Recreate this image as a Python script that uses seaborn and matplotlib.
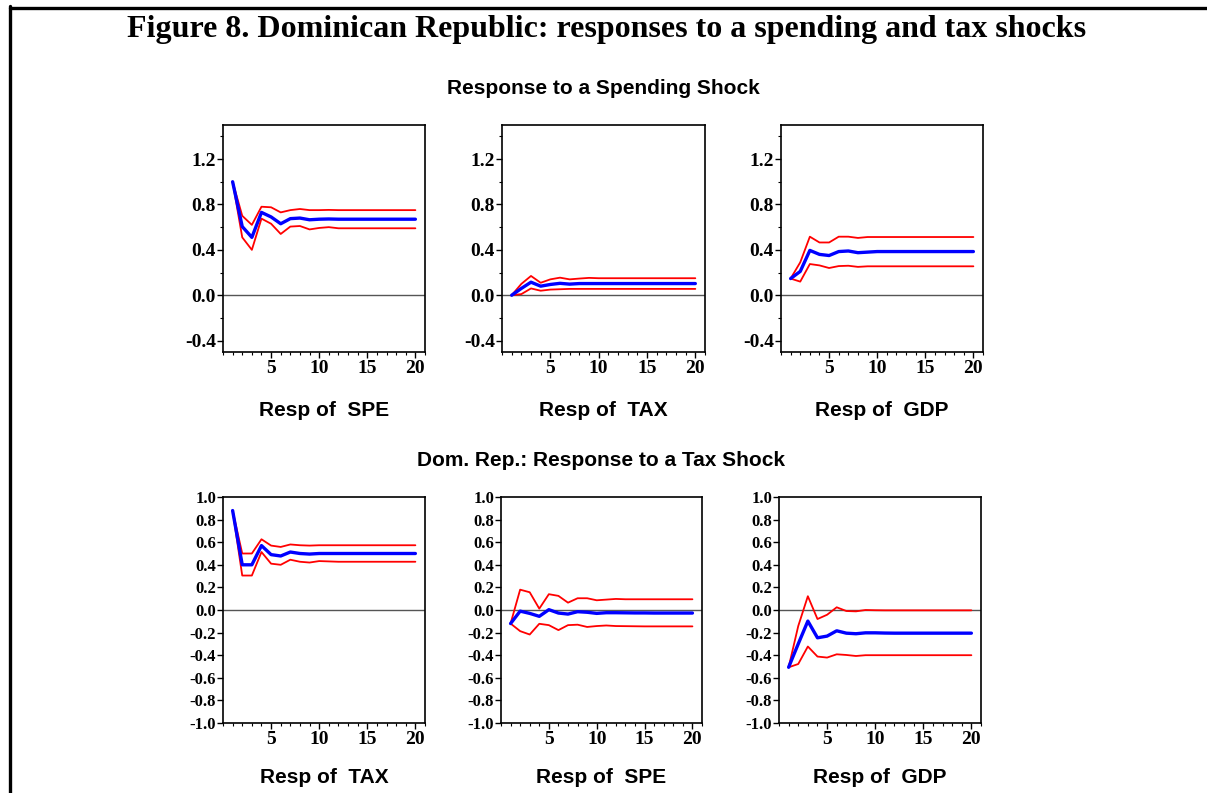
import seaborn as sns
import matplotlib.pyplot as plt
import matplotlib.ticker as mticker
from matplotlib.lines import Line2D
import numpy as np
import pandas as pd

sns.set_style("ticks")
plt.rcParams['font.family'] = ['Liberation Sans', 'DejaVu Sans']
plt.rcParams['text.color'] = 'black'
plt.rcParams['axes.labelcolor'] = 'black'
plt.rcParams['xtick.color'] = 'black'
plt.rcParams['ytick.color'] = 'black'

periods = list(range(1, 21))

# response to a spending shock
spe_spe = [1.0, 0.605, 0.51, 0.73, 0.69, 0.63, 0.675, 0.68, 0.665, 0.67,
           0.672, 0.67, 0.67, 0.67, 0.67, 0.67, 0.67, 0.67, 0.67, 0.67]
spe_spe_hi = [1.0, 0.70, 0.62, 0.78, 0.775, 0.73, 0.75, 0.76, 0.75, 0.75,
              0.752, 0.75, 0.75, 0.75, 0.75, 0.75, 0.75, 0.75, 0.75, 0.75]
spe_spe_lo = [1.0, 0.51, 0.40, 0.675, 0.63, 0.54, 0.605, 0.61, 0.58, 0.593,
              0.60, 0.59, 0.59, 0.59, 0.59, 0.59, 0.59, 0.59, 0.59, 0.59]

spe_tax = [0.0, 0.06, 0.115, 0.08, 0.095, 0.105, 0.098, 0.103, 0.103, 0.103,
           0.103, 0.103, 0.103, 0.103, 0.103, 0.103, 0.103, 0.103, 0.103, 0.103]
spe_tax_hi = [0.0, 0.10, 0.17, 0.11, 0.14, 0.155, 0.14, 0.147, 0.153, 0.15,
              0.15, 0.15, 0.15, 0.15, 0.15, 0.15, 0.15, 0.15, 0.15, 0.15]
spe_tax_lo = [0.0, 0.01, 0.06, 0.04, 0.05, 0.053, 0.056, 0.056, 0.056, 0.056,
              0.056, 0.056, 0.056, 0.056, 0.056, 0.056, 0.056, 0.056, 0.056, 0.056]

spe_gdp = [0.147, 0.21, 0.395, 0.36, 0.35, 0.385, 0.39, 0.375, 0.38, 0.385,
           0.385, 0.385, 0.385, 0.385, 0.385, 0.385, 0.385, 0.385, 0.385, 0.385]
spe_gdp_hi = [0.147, 0.29, 0.516, 0.465, 0.465, 0.516, 0.516, 0.505, 0.513, 0.513,
              0.513, 0.513, 0.513, 0.513, 0.513, 0.513, 0.513, 0.513, 0.513, 0.513]
spe_gdp_lo = [0.147, 0.12, 0.275, 0.263, 0.24, 0.257, 0.26, 0.25, 0.255, 0.255,
              0.255, 0.255, 0.255, 0.255, 0.255, 0.255, 0.255, 0.255, 0.255, 0.255]

# response to a tax shock
tax_tax = [0.88, 0.40, 0.40, 0.57, 0.49, 0.478, 0.513, 0.50, 0.495, 0.50,
           0.50, 0.50, 0.50, 0.50, 0.50, 0.50, 0.50, 0.50, 0.50, 0.50]
tax_tax_hi = [0.88, 0.50, 0.50, 0.626, 0.57, 0.558, 0.58, 0.573, 0.57, 0.573,
              0.573, 0.573, 0.573, 0.573, 0.573, 0.573, 0.573, 0.573, 0.573, 0.573]
tax_tax_lo = [0.88, 0.305, 0.305, 0.513, 0.41, 0.40, 0.445, 0.427, 0.42, 0.433,
              0.43, 0.427, 0.427, 0.427, 0.427, 0.427, 0.427, 0.427, 0.427, 0.427]

tax_spe = [-0.12, -0.01, -0.03, -0.056, 0.003, -0.027, -0.036, -0.015, -0.02, -0.03,
           -0.024, -0.024, -0.025, -0.026, -0.026, -0.027, -0.027, -0.027, -0.027, -0.027]
tax_spe_hi = [-0.12, 0.18, 0.157, 0.012, 0.14, 0.125, 0.065, 0.104, 0.104, 0.086,
              0.092, 0.098, 0.095, 0.095, 0.095, 0.095, 0.095, 0.095, 0.095, 0.095]
tax_spe_lo = [-0.12, -0.187, -0.217, -0.122, -0.134, -0.178, -0.134, -0.13, -0.15, -0.142,
              -0.137, -0.142, -0.143, -0.144, -0.145, -0.145, -0.145, -0.145, -0.145, -0.145]

tax_gdp = [-0.507, -0.30, -0.098, -0.246, -0.231, -0.184, -0.205, -0.21, -0.202, -0.202,
           -0.204, -0.205, -0.205, -0.205, -0.205, -0.205, -0.205, -0.205, -0.205, -0.205]
tax_gdp_hi = [-0.507, -0.142, 0.122, -0.08, -0.042, 0.024, -0.009, -0.012, 0.0, -0.002,
              -0.003, -0.003, -0.003, -0.003, -0.003, -0.003, -0.003, -0.003, -0.003, -0.003]
tax_gdp_lo = [-0.507, -0.478, -0.323, -0.412, -0.421, -0.392, -0.398, -0.407, -0.40, -0.40,
              -0.40, -0.40, -0.40, -0.40, -0.40, -0.40, -0.40, -0.40, -0.40, -0.40]

top_labels = ["Resp of  SPE", "Resp of  TAX", "Resp of  GDP"]
bottom_labels = ["Resp of  TAX", "Resp of  SPE", "Resp of  GDP"]

fig = plt.figure(figsize=(12.07, 7.93), dpi=100)

W, H = 1207, 793
def box(x0, y0, x1, y1):
    return [x0 / W, 1 - y1 / H, (x1 - x0) / W, (y1 - y0) / H]

top_boxes = [box(223, 125, 425, 352), box(502, 125, 705, 352), box(781, 125, 983, 352)]
bot_boxes = [box(223, 497, 425, 723), box(501, 497, 702, 723), box(779, 497, 981, 723)]

top_series = [(spe_spe, spe_spe_hi, spe_spe_lo),
              (spe_tax, spe_tax_hi, spe_tax_lo),
              (spe_gdp, spe_gdp_hi, spe_gdp_lo)]
bot_series = [(tax_tax, tax_tax_hi, tax_tax_lo),
              (tax_spe, tax_spe_hi, tax_spe_lo),
              (tax_gdp, tax_gdp_hi, tax_gdp_lo)]


def draw_panel(rect, series, label, top):
    ax = fig.add_axes(rect)
    mid, hi, lo = series
    df = pd.DataFrame({'period': periods, 'mid': mid, 'hi': hi, 'lo': lo})
    ax.axhline(0, color='#555555', lw=1.0, zorder=1)
    sns.lineplot(data=df, x='period', y='hi', ax=ax, color='red', lw=1.3)
    sns.lineplot(data=df, x='period', y='lo', ax=ax, color='red', lw=1.3)
    sns.lineplot(data=df, x='period', y='mid', ax=ax, color='blue', lw=2.4)
    ax.set_xlim(0, 21)
    ax.xaxis.set_major_locator(mticker.FixedLocator([5, 10, 15, 20]))
    ax.xaxis.set_minor_locator(mticker.MultipleLocator(1))
    if top:
        ax.set_ylim(-0.5, 1.5)
        ax.yaxis.set_major_locator(mticker.FixedLocator([-0.4, 0.0, 0.4, 0.8, 1.2]))
        ax.yaxis.set_minor_locator(mticker.MultipleLocator(0.2))
        ysize = 14
        pad = 17
    else:
        ax.set_ylim(-1.0, 1.0)
        ax.yaxis.set_major_locator(mticker.MultipleLocator(0.2))
        ysize = 12
        pad = 14
    ax.yaxis.set_major_formatter(mticker.FormatStrFormatter('%.1f'))
    for t in ax.get_yticklabels():
        t.set_fontfamily('Liberation Serif')
        t.set_fontweight('bold')
        t.set_fontsize(ysize)
    for t in ax.get_xticklabels():
        t.set_fontfamily('Liberation Serif')
        t.set_fontweight('bold')
        t.set_fontsize(14)
    ax.tick_params(axis='both', which='major', length=4, width=1, pad=2, color='black')
    ax.tick_params(axis='both', which='minor', length=2, width=0.8, color='black')
    ax.tick_params(axis='y', pad=1)
    for s in ax.spines.values():
        s.set_visible(True)
        s.set_color('black')
        s.set_linewidth(1.2)
    ax.set_ylabel('')
    ax.set_xlabel(label, fontsize=15, fontweight='bold', labelpad=pad)
    return ax


for rect, ser, lab in zip(top_boxes, top_series, top_labels):
    draw_panel(rect, ser, lab, True)
for rect, ser, lab in zip(bot_boxes, bot_series, bottom_labels):
    draw_panel(rect, ser, lab, False)

fig.text(607 / W, 1 - 29 / H, "Figure 8. Dominican Republic: responses to a spending and tax shocks",
         ha='center', va='center', fontsize=23, fontweight='bold', family='Liberation Serif')
fig.text(603 / W, 1 - 88 / H, "Response to a Spending Shock",
         ha='center', va='center', fontsize=15, fontweight='bold')
fig.text(601 / W, 1 - 461 / H, "Dom. Rep.: Response to a Tax Shock",
         ha='center', va='center', fontsize=15, fontweight='bold')

# frame lines of the page
fig.add_artist(Line2D([9.5 / W, 1.0], [1 - 7.5 / H, 1 - 7.5 / H], transform=fig.transFigure,
                      color='black', lw=2.4))
fig.add_artist(Line2D([9.5 / W, 9.5 / W], [0, 1 - 6.3 / H], transform=fig.transFigure,
                      color='black', lw=2.4))

fig.savefig("out.png", dpi=100)
